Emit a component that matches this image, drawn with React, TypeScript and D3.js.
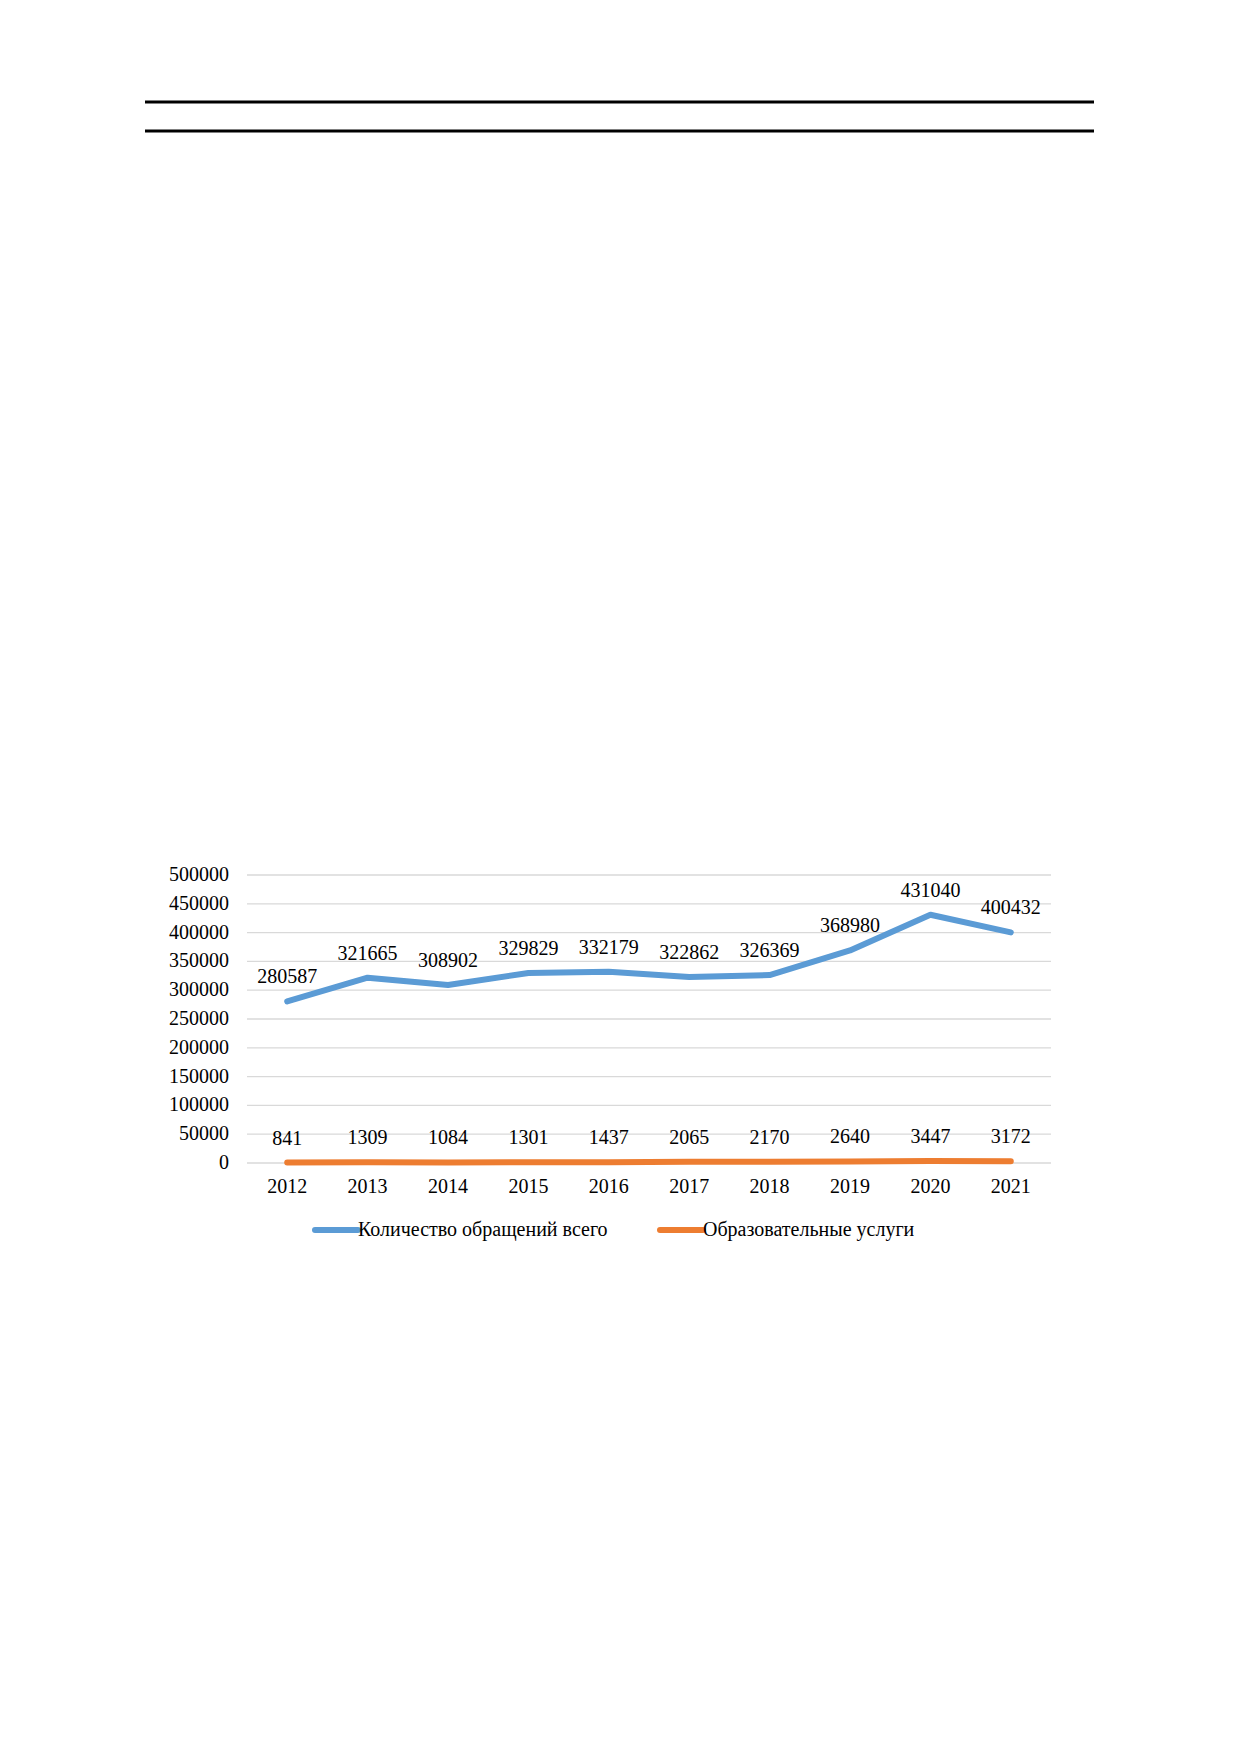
import React, { useEffect, useRef } from "react";
import * as d3 from "d3";

// values
const years = ["2012", "2013", "2014", "2015", "2016", "2017", "2018", "2019", "2020", "2021"];
const totalRequests = [280587, 321665, 308902, 329829, 332179, 322862, 326369, 368980, 431040, 400432];
const educationServices = [841, 1309, 1084, 1301, 1437, 2065, 2170, 2640, 3447, 3172];
const yTicks = [0, 50000, 100000, 150000, 200000, 250000, 300000, 350000, 400000, 450000, 500000];
const seriesNames = ["Количество обращений всего", "Образовательные услуги"];
const seriesColors = ["#5b9bd5", "#ed7d31"];

const FONT = "'Liberation Serif', 'Times New Roman', serif";
const FONT_SIZE = 20;

export default function App() {
	const svgRef = useRef<SVGSVGElement | null>(null);

	useEffect(() => {
		if (!svgRef.current) return;
		const width = 1237;
		const height = 1754;
		const plot = { left: 247, right: 1051, top: 875, bottom: 1163 };

		const svg = d3.select(svgRef.current);
		svg.selectAll("*").remove();
		svg.attr("viewBox", `0 0 ${width} ${height}`);

		// page header rules
		[102, 131].forEach((y) => {
			svg.append("line")
				.attr("x1", 145).attr("x2", 1094)
				.attr("y1", y).attr("y2", y)
				.attr("stroke", "#000").attr("stroke-width", 3);
		});

		const x = d3.scalePoint<string>().domain(years).range([plot.left, plot.right]).padding(0.5);
		const y = d3.scaleLinear().domain([0, 500000]).range([plot.bottom, plot.top]);

		// gridlines
		svg.append("g")
			.selectAll("line")
			.data(yTicks)
			.enter()
			.append("line")
			.attr("x1", plot.left).attr("x2", plot.right)
			.attr("y1", (d) => y(d)).attr("y2", (d) => y(d))
			.attr("stroke", "#d9d9d9").attr("stroke-width", 1.3);

		// y tick labels
		svg.append("g")
			.selectAll("text")
			.data(yTicks)
			.enter()
			.append("text")
			.attr("x", 229)
			.attr("y", (d) => y(d) + 6)
			.attr("text-anchor", "end")
			.attr("font-family", FONT)
			.attr("font-size", FONT_SIZE)
			.text((d) => String(d));

		// x tick labels
		svg.append("g")
			.selectAll("text")
			.data(years)
			.enter()
			.append("text")
			.attr("x", (d) => x(d)!)
			.attr("y", 1193)
			.attr("text-anchor", "middle")
			.attr("font-family", FONT)
			.attr("font-size", FONT_SIZE)
			.text((d) => d);

		const line = d3.line<number>()
			.x((_, i) => x(years[i])!)
			.y((d) => y(d));

		[totalRequests, educationServices].forEach((values, si) => {
			svg.append("path")
				.datum(values)
				.attr("d", line)
				.attr("fill", "none")
				.attr("stroke", seriesColors[si])
				.attr("stroke-width", 6)
				.attr("stroke-linejoin", "round")
				.attr("stroke-linecap", "round");

			svg.append("g")
				.selectAll("text")
				.data(values)
				.enter()
				.append("text")
				.attr("x", (_, i) => x(years[i])!)
				.attr("y", (d) => y(d) - 18)
				.attr("text-anchor", "middle")
				.attr("font-family", FONT)
				.attr("font-size", FONT_SIZE)
				.text((d) => String(d));
		});

		// legend
		const legendX = [315, 660];
		seriesNames.forEach((name, i) => {
			const g = svg.append("g").attr("transform", `translate(${legendX[i]},1230)`);
			g.append("line")
				.attr("x1", 0).attr("x2", 43)
				.attr("y1", 0).attr("y2", 0)
				.attr("stroke", seriesColors[i])
				.attr("stroke-width", 6)
				.attr("stroke-linecap", "round");
			g.append("text")
				.attr("x", 43)
				.attr("y", 6)
				.attr("font-family", FONT)
				.attr("font-size", FONT_SIZE)
				.text(name);
		});
	}, []);

	return (
		<svg
			ref={svgRef}
			width={1237}
			height={1754}
			style={{ position: "absolute", left: 0, top: 0, background: "#fff" }}
		/>
	);
}
